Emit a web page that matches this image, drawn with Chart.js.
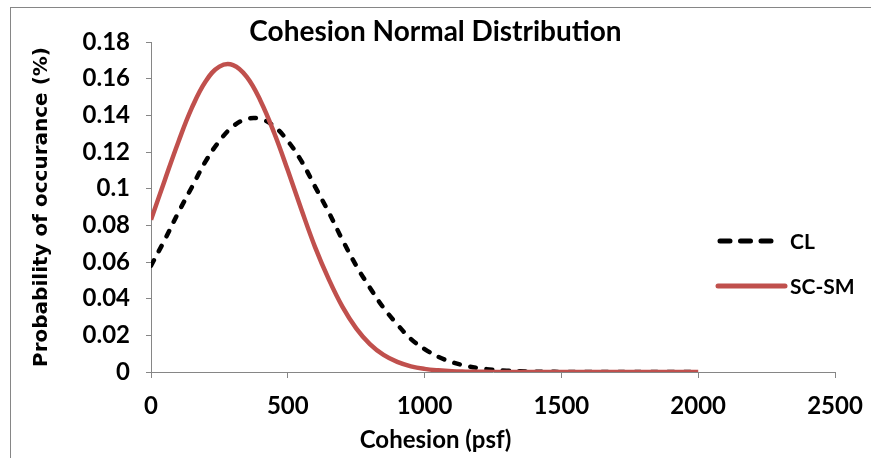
<!DOCTYPE html>
<html>
<head>
<meta charset="utf-8">
<script src="https://cdn.jsdelivr.net/npm/chart.js@4.4.1/dist/chart.umd.min.js"></script>
<style>
  html, body { margin: 0; padding: 0; background: #fff; overflow: hidden; }
  #wrap { position: relative; width: 871px; height: 458px; }
  #frame { position: absolute; left: 10px; top: 7px; width: 900px; height: 500px; border: 1px solid #868686; }
  #chart { position: absolute; left: 0; top: 0; }
</style>
</head>
<body>
<div id="wrap">
  <div id="frame"></div>
  <canvas id="chart" width="871" height="458"></canvas>
</div>
<script>
// Cohesion values along the x axis (psf)
const cohesion = [0, 50, 100, 150, 200, 250, 300, 350, 400, 450,
                  500, 550, 600, 650, 700, 750, 800, 850, 900, 950,
                  1000, 1050, 1100, 1150, 1200, 1250, 1300, 1350, 1400, 1450,
                  1500, 1550, 1600, 1650, 1700, 1750, 1800, 1850, 1900, 1950, 2000];

// CL curve
const clValues = [0.058, 0.072, 0.087, 0.101, 0.115, 0.126, 0.134, 0.138, 0.138, 0.134,
                  0.126, 0.115, 0.101, 0.087, 0.072, 0.058, 0.046, 0.035, 0.026, 0.018,
                  0.0125, 0.0083, 0.0054, 0.0034, 0.0021, 0.0012, 0.0007, 0.0004, 0.0002, 0.0001,
                  0.00005, 0, 0, 0, 0, 0, 0, 0, 0, 0, 0];

// SC-SM curve
const scsmValues = [0.083, 0.1045, 0.1255, 0.1443, 0.1586, 0.1666, 0.1674, 0.161, 0.148, 0.1305,
                    0.110, 0.0885, 0.068, 0.0505, 0.0355, 0.0238, 0.0152, 0.0093, 0.0055, 0.0031,
                    0.0017, 0.0009, 0.0004, 0.0002, 0.0001, 0.00005, 0, 0, 0, 0,
                    0, 0, 0, 0, 0, 0, 0, 0, 0, 0, 0];

// Tick labels
const xTicks = [0, 500, 1000, 1500, 2000, 2500];
const yTicks = [0, 0.02, 0.04, 0.06, 0.08, 0.1, 0.12, 0.14, 0.16, 0.18];

const axisGray = '#868686';

function toPoints(values) {
    return cohesion.map((c, i) => ({ x: c, y: values[i] }));
}

// Legend drawn over the plot on the right, like the original
const sideLegend = {
    id: 'sideLegend',
    afterDatasetsDraw(chart) {
        const ctx = chart.ctx;
        const rows = [
            { ds: chart.data.datasets[0], y: 241, x1: 720, x2: 775, dash: [10, 10.5] },
            { ds: chart.data.datasets[1], y: 286, x1: 718, x2: 785, dash: [] }
        ];
        ctx.save();
        rows.forEach(r => {
            ctx.beginPath();
            ctx.strokeStyle = r.ds.borderColor;
            ctx.lineWidth = r.ds.borderWidth + 0.5;
            ctx.lineCap = 'round';
            ctx.setLineDash(r.dash);
            ctx.moveTo(r.x1, r.y);
            ctx.lineTo(r.x2, r.y);
            ctx.stroke();
            ctx.setLineDash([]);
            ctx.fillStyle = '#000';
            ctx.font = 'bold 21px Lato';
            ctx.textAlign = 'left';
            ctx.textBaseline = 'middle';
            ctx.fillText(r.ds.label, 790, r.y + 1);
        });
        ctx.restore();
    }
};

Chart.defaults.font.family = 'Lato';
Chart.defaults.color = '#000';

const ctx = document.getElementById('chart').getContext('2d');
new Chart(ctx, {
    type: 'line',
    data: {
        datasets: [
            {
                label: 'CL',
                data: toPoints(clValues),
                borderColor: '#000000',
                borderWidth: 4.5,
                borderDash: [6, 10.5],
                borderCapStyle: 'round',
                pointRadius: 0,
                tension: 0.4,
                order: 1
            },
            {
                label: 'SC-SM',
                data: toPoints(scsmValues),
                borderColor: '#C0504D',
                borderWidth: 4.5,
                pointRadius: 0,
                tension: 0.4,
                order: 0
            }
        ]
    },
    options: {
        responsive: false,
        animation: false,
        devicePixelRatio: 1,
        layout: { padding: 0 },
        plugins: {
            legend: { display: false },
            tooltip: { enabled: false },
            title: {
                display: true,
                text: 'Cohesion Normal Distribution',
                font: { size: 28, weight: 'bold' },
                color: '#000',
                padding: { top: 15, bottom: -6.6 }
            },
            // x axis title, centred on the whole picture as in the original
            subtitle: {
                display: true,
                position: 'bottom',
                text: 'Cohesion (psf)',
                font: { size: 24, weight: 'bold' },
                color: '#000',
                padding: { top: 0, bottom: 3 }
            }
        },
        scales: {
            x: {
                type: 'linear',
                min: 0,
                max: 2500,
                afterBuildTicks: (s) => { s.ticks = xTicks.map(v => ({ value: v })); },
                afterFit: (s) => { s.height = 54.2; s.paddingLeft = 0; s.paddingRight = 36; },
                grid: { drawOnChartArea: false, drawTicks: true, tickLength: 6, color: axisGray },
                border: { color: axisGray, width: 1 },
                ticks: {
                    font: { size: 24, weight: 'bold' },
                    padding: 14,
                    maxRotation: 0,
                    callback: (v) => String(v)
                }
            },
            y: {
                min: 0,
                max: 0.18,
                afterBuildTicks: (s) => { s.ticks = yTicks.map(v => ({ value: v })); },
                afterFit: (s) => { s.width = 151; },
                grid: { drawOnChartArea: false, drawTicks: true, tickLength: 5, color: axisGray },
                border: { color: axisGray, width: 1 },
                ticks: {
                    font: { size: 24, weight: 'bold' },
                    padding: 16,
                    callback: (v) => String(v)
                },
                title: {
                    display: true,
                    text: 'Probability of occurance (%)',
                    font: { family: 'DejaVu Sans', size: 20, weight: 'bold' },
                    padding: { top: 30, bottom: 0 }
                }
            }
        }
    },
    plugins: [sideLegend]
});
</script>
</body>
</html>
